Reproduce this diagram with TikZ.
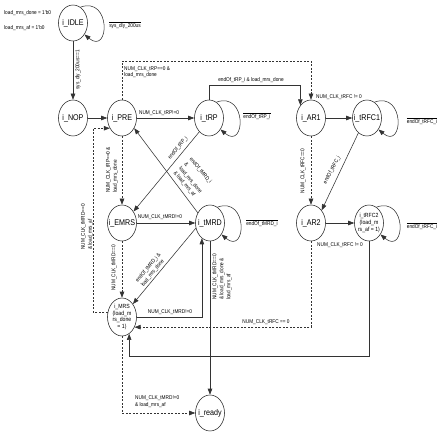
\documentclass[tikz,border=0pt]{standalone}
\usepackage{fontspec}
\setmainfont{Liberation Sans}[FakeStretch=0.86]
\usetikzlibrary{arrows.meta,shapes.geometric}
\newcommand\ovl[1]{$\overline{\mbox{#1}}$}
\begin{document}
\begin{tikzpicture}[x=1pt,y=1pt,
  st/.style={draw=black!85, ellipse, line width=0.55pt, minimum width=29pt, minimum height=36pt,
    inner xsep=-5pt, inner ysep=0pt, font=\fontsize{8.3}{9}\selectfont},
  st2/.style={st, font=\fontsize{6}{6.8}\selectfont, align=center, inner xsep=-3pt},
  ln/.style={draw=black!80, line width=0.55pt},
  arr/.style={ln, -{Triangle[length=6pt,width=4.5pt]}},
  darr/.style={arr, dash pattern=on 2pt off 1.5pt},
  lb/.style={font=\fontsize{5.5}{6.9}\selectfont, inner sep=0pt},
  lp/.style={arr, to path={.. controls +(20:33) and +(-40:33) .. (\tikztotarget)}}]
\useasboundingbox (0,0) rectangle (440,-436);
\fill[white] (0,0) rectangle (440,-436);
% coordinates for routing
\coordinate (xL) at (93,0);
\coordinate (ytop) at (0,-61);
\coordinate (ymid) at (0,-85);
\coordinate (yb) at (0,-356);
% states
\node[st] (idle) at (73,-23) {i\_IDLE};
\node[st] (nop) at (73,-118) {i\_NOP};
\node[st] (pre) at (122,-118) {i\_PRE};
\node[st] (trp) at (209,-118) {i\_tRP};
\node[st] (ar1) at (311,-118) {i\_AR1};
\node[st] (trfc1) at (367,-118) {i\_tRFC1};
\node[st] (emrs) at (122,-223) {i\_EMRS};
\node[st] (tmrd) at (210,-223) {i\_tMRD};
\node[st] (ar2) at (311,-223) {i\_AR2};
\node[st2] (trfc2) at (369,-223) {i\_tRFC2\\(load\_m\\rs\_af = 1)};
\node[st2, minimum height=38pt] (mrs) at (122,-317) {i\_MRS\\(load\_m\\rs\_done\\= 1)};
\node[st] (ready) at (210,-413) {i\_ready};
% transitions
\draw[arr] (idle.south) -- (nop.north);
\draw[lp] (idle.65) to (idle.-45);
\draw[arr] (nop.east) -- (pre.west);
\draw[arr] (pre.east) -- (trp.west);
\draw[lp] (trp.65) to (trp.-45);
\draw[arr] (trp.235) -- (emrs.45);
\draw[arr] (tmrd.140) -- (pre.-40);
\draw[darr] (pre.south) -- (emrs.north);
\draw[darr] (mrs.160) -- (mrs.160 -| xL) |- (pre.220);
\draw[arr] (emrs.east) -- (tmrd.west);
\draw[lp] (tmrd.65) to (tmrd.-45);
\draw[darr] (emrs.south) -- (mrs.north);
\draw[arr] (tmrd.200) -- (mrs.50);
\draw[arr] (mrs.east) -| (tmrd.242);
\draw[arr] (tmrd.south) -- (ready.north);
\draw[darr] (mrs.south) |- (ready.west);
\draw[arr] (trfc2.south) -- (trfc2.south |- yb) -| (mrs.-67);
\draw[darr] (ar2.south) |- (mrs.-39);
\draw[darr] (pre.north) -- (pre.north |- ytop) -| (ar1.north);
\draw[arr] (trp.north) -- (trp.north |- ymid) -| (ar1.130);
\draw[arr] (ar1.east) -- (trfc1.west);
\draw[lp] (trfc1.65) to (trfc1.-45);
\draw[arr] (trfc1.240) -- (ar2.50);
\draw[darr] (ar1.south) -- (ar2.north);
\draw[arr] (ar2.east) -- (trfc2.west);
\draw[lp] (trfc2.65) to (trfc2.-45);
% labels
\node[lb, anchor=west] (t1) at (4,-13) {load\_mrs\_done = 1\textquotesingle b0};
\node[lb, anchor=west] (t2) at (4,-28) {load\_mrs\_af = 1\textquotesingle b0};
\node[lb] (t3) at (125,-25) {\ovl{sys\_dly\_200us}};
\node[lb, rotate=90] (t4) at (78,-70) {sys\_dly\_200us==1};
\node[lb, anchor=north west, align=left] (t5) at (124,-66) {NUM\_CLK\_tRP==0 \&\\load\_mrs\_done};
\node[lb] (t6) at (251,-80) {endOf\_tRP\_i \& load\_mrs\_done};
\node[lb, anchor=west] (t7) at (316,-97) {NUM\_CLK\_tRFC != 0};
\node[lb] (t8) at (159,-113) {NUM\_CLK\_tRP!=0};
\node[lb] (t9) at (257,-116) {\ovl{endOf\_tRP\_i}};
\node[lb] (t10) at (422,-121) {\ovl{endOf\_tRFC\_i}};
\node[lb, rotate=50] (t11) at (178,-148) {endOf\_tRP\_i};
\node[lb, rotate=-50, align=left] (t12) at (193,-178) {endOf\_tMRD\_i\\\&\\load\_mrs\_done\\\& load\_mrs\_af};
\node[lb, rotate=90, align=left] (t13) at (112,-170) {NUM\_CLK\_tRP==0 \&\\load\_mrs\_done};
\node[lb, rotate=90, align=left] (t14) at (87,-227) {NUM\_CLK\_tMRD==0\\\& load\_mrs\_af};
\node[lb] (t15) at (160,-217) {NUM\_CLK\_tMRD!=0};
\node[lb] (t16) at (262,-223) {\ovl{endOf\_tMRD\_i}};
\node[lb, rotate=90] (t17) at (114,-268) {NUM\_CLK\_tMRD==0};
\node[lb, rotate=50, align=left] (t18) at (151,-270) {endOf\_tMRD\_i \&\\load\_mrs\_done};
\node[lb] (t19) at (170,-312) {NUM\_CLK\_tMRD!=0};
\node[lb, rotate=90, align=left] (t20) at (222,-277) {NUM\_CLK\_tMRD==0\\\& load\_mrs\_done \&\\load\_mrs\_af};
\node[lb] (t21) at (266,-322) {NUM\_CLK\_tRFC == 0};
\node[lb, anchor=west, align=left] (t22) at (135,-402) {NUM\_CLK\_tMRD!=0\\\& load\_mrs\_af};
\node[lb, rotate=90] (t23) at (303,-171) {NUM\_CLK\_tRFC==0};
\node[lb, rotate=62] (t24) at (332,-170) {endOf\_tRFC\_i};
\node[lb] (t25) at (340,-245) {NUM\_CLK\_tRFC != 0};
\node[lb] (t26) at (422,-226) {\ovl{endOf\_tRFC\_i}};
\end{tikzpicture}
\end{document}
